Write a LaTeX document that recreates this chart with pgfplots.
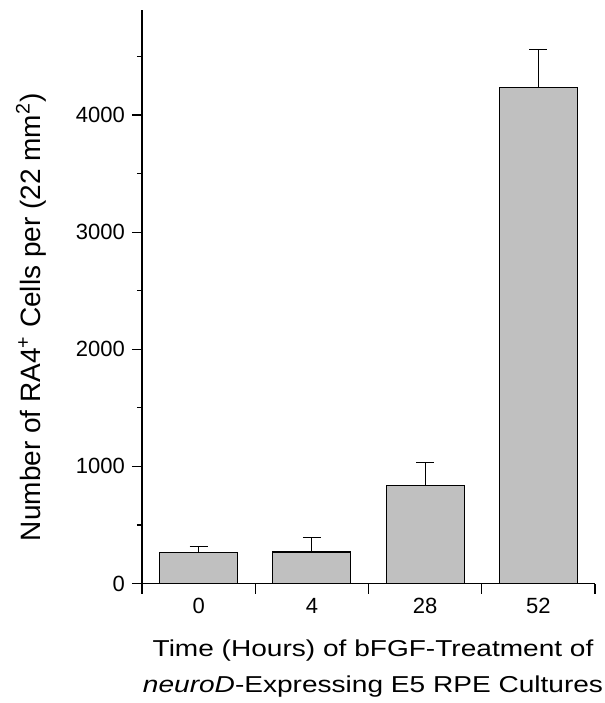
\documentclass[border=0pt]{standalone}
\usepackage{fontspec}
\setmainfont{Liberation Sans}
\usepackage{graphicx}
\usepackage{pgfplots}
\pgfplotsset{compat=1.18}
\begin{document}
\begin{tikzpicture}
\useasboundingbox (-71pt,-59.75pt) rectangle (231.5pt,291.75pt);
\begin{axis}[
  at={(0,0)}, anchor=south west,
  scale only axis,
  width=226.5pt, height=286.9pt,
  xmin=-0.5, xmax=3.5,
  ymin=0, ymax=4900,
  axis lines=left,
  axis line style={-, line width=0.75pt},
  /pgf/number format/assume math mode=true,
  ticklabel style={font=\fontsize{11}{13}\selectfont},
  xtick={-0.5,0.5,1.5,2.5,3.5},
  xticklabels={},
  xtick align=center,
  extra x ticks={0,1,2,3},
  extra x tick labels={0,4,28,52},
  extra x tick style={major tick length=0pt,
     xticklabel style={anchor=center, yshift=-11.25pt, text height=7.9pt, text depth=0pt}},
  ytick={0,1000,2000,3000,4000},
  minor ytick={500,1500,2500,3500,4500},
  ytick align=outside,
  major tick length=5pt,
  minor tick length=2.5pt,
  tick style={line width=0.6pt, black},
  yticklabel style={/pgf/number format/1000 sep={}},
  ylabel={Number of RA4\textsuperscript{+} Cells per (22 mm\textsuperscript{2})},
  ylabel style={font=\fontsize{14}{16}\selectfont, at={(axis description cs:-0.245,0.464)}, anchor=center},
  xlabel={\scalebox{1.22}[1]{Time (Hours) of bFGF-Treatment of}\\\scalebox{1.22}[1]{\textit{neuroD}-Expressing E5 RPE Cultures}},
  xlabel style={font=\fontsize{11.5}{17.7}\selectfont, align=center, at={(axis description cs:0.51,-0.148)}, anchor=center},
  ybar, bar width=39pt,
]
\addplot[fill={rgb,255:red,192;green,192;blue,192}, draw=black, line width=0.6pt,
  error bars/.cd, y dir=plus, y explicit,
  error bar style={line width=0.5pt, black},
  error mark options={rotate=90, mark size=4.5pt, line width=0.5pt, black}]
  coordinates {
  (0,266) +- (0,46)
  (1,269) +- (0,122)
  (2,835) +- (0,197)
  (3,4237) +- (0,319)
  };
\end{axis}
\end{tikzpicture}
\end{document}
